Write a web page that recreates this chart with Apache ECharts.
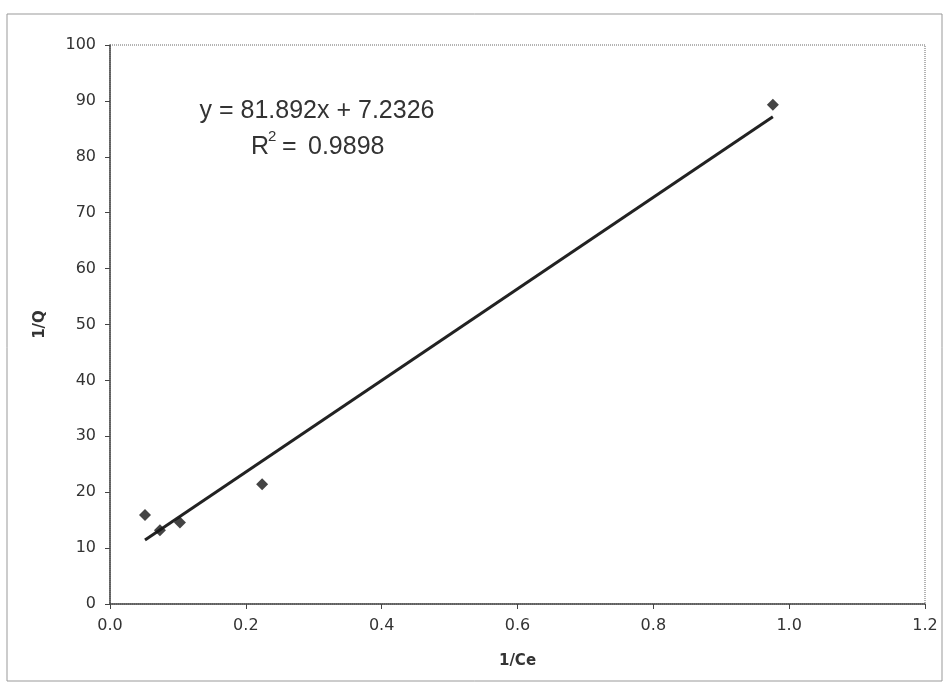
<!DOCTYPE html>
<html>
<head>
<meta charset="utf-8">
<script src="https://cdn.jsdelivr.net/npm/echarts@6/dist/echarts.min.js"></script>
<style>html,body{margin:0;padding:0;background:#fff}#c{width:945px;height:684px}</style>
</head>
<body>
<div id="c"></div>
<script>
// Data
var xValues = [0.0515, 0.0735, 0.103, 0.224, 0.976];
var yValues = [15.9, 13.2, 14.6, 21.4, 89.3];
var trendSlope = 81.892;
var trendIntercept = 7.2326;
var equationLine1 = 'y = 81.892x + 7.2326';
var equationLine2 = ['R', '2', '=', '0.9898'];
var xTicks = ['0.0', '0.2', '0.4', '0.6', '0.8', '1.0', '1.2'];
var yTicks = ['0', '10', '20', '30', '40', '50', '60', '70', '80', '90', '100'];

var points = xValues.map(function (x, i) { return [x, yValues[i]]; });
var xmin = Math.min.apply(null, xValues), xmax = Math.max.apply(null, xValues);
var trend = [[xmin, trendSlope * xmin + trendIntercept], [xmax, trendSlope * xmax + trendIntercept]];

var chart = echarts.init(document.getElementById('c'));
var labelFont = 'Verdana, "DejaVu Sans", sans-serif';
var eqFont = '"Liberation Sans", Arial, sans-serif';
chart.setOption({
  animation: false,
  backgroundColor: '#fff',
  grid: { left: 110, right: 20, top: 45, bottom: 80, show: true, borderColor: '#666', borderWidth: 1, borderType: 'dotted', backgroundColor: 'transparent' },
  xAxis: {
    type: 'value', min: 0, max: 1.2, interval: 0.2,
    name: '1/Ce', nameLocation: 'middle', nameGap: 50,
    nameTextStyle: { fontFamily: labelFont, fontWeight: 'bold', fontSize: 15, color: '#333' },
    axisLine: { show: true, onZero: false, lineStyle: { color: '#444', width: 1.5 } },
    axisTick: { show: true, inside: false, length: 5, lineStyle: { color: '#444' } },
    axisLabel: { fontFamily: labelFont, fontSize: 16, color: '#333', margin: 14,
      formatter: function (v) { var s = v.toFixed(1); return xTicks.indexOf(s) >= 0 ? s : ''; } },
    splitLine: { show: false }
  },
  yAxis: {
    type: 'value', min: 0, max: 100, interval: 10,
    name: '1/Q', nameLocation: 'middle', nameGap: 62, nameRotate: 90,
    nameTextStyle: { fontFamily: labelFont, fontWeight: 'bold', fontSize: 15, color: '#333' },
    axisLine: { show: true, onZero: false, lineStyle: { color: '#444', width: 1.5 } },
    axisTick: { show: true, inside: false, length: 5, lineStyle: { color: '#444' } },
    axisLabel: { fontFamily: labelFont, fontSize: 16, color: '#333', margin: 14,
      formatter: function (v) { var s = String(Math.round(v)); return yTicks.indexOf(s) >= 0 ? s : ''; } },
    splitLine: { show: false }
  },
  series: [
    {
      type: 'line', data: trend, showSymbol: false, symbol: 'none',
      lineStyle: { color: '#222', width: 3 }, z: 2
    },
    {
      type: 'scatter', data: points, symbol: 'diamond', symbolSize: 12,
      itemStyle: { color: '#151515' }, z: 3
    }
  ],
  graphic: [
    { type: 'rect', shape: { x: 7, y: 14, width: 935, height: 667 }, style: { fill: 'none', stroke: '#999', lineWidth: 1 }, silent: true },
    { type: 'text', x: 317, y: 111, style: { text: equationLine1, font: '25px ' + eqFont, fill: '#333', align: 'center', verticalAlign: 'middle' } },
    { type: 'text', x: 251, y: 147, style: { text: equationLine2[0], font: '25px ' + eqFont, fill: '#333', align: 'left', verticalAlign: 'middle' } },
    { type: 'text', x: 268, y: 137, style: { text: equationLine2[1], font: '15px ' + eqFont, fill: '#333', align: 'left', verticalAlign: 'middle' } },
    { type: 'text', x: 282, y: 147, style: { text: equationLine2[2], font: '25px ' + eqFont, fill: '#333', align: 'left', verticalAlign: 'middle' } },
    { type: 'text', x: 308, y: 147, style: { text: equationLine2[3], font: '25px ' + eqFont, fill: '#333', align: 'left', verticalAlign: 'middle' } }
  ]
});
</script>
</body>
</html>
